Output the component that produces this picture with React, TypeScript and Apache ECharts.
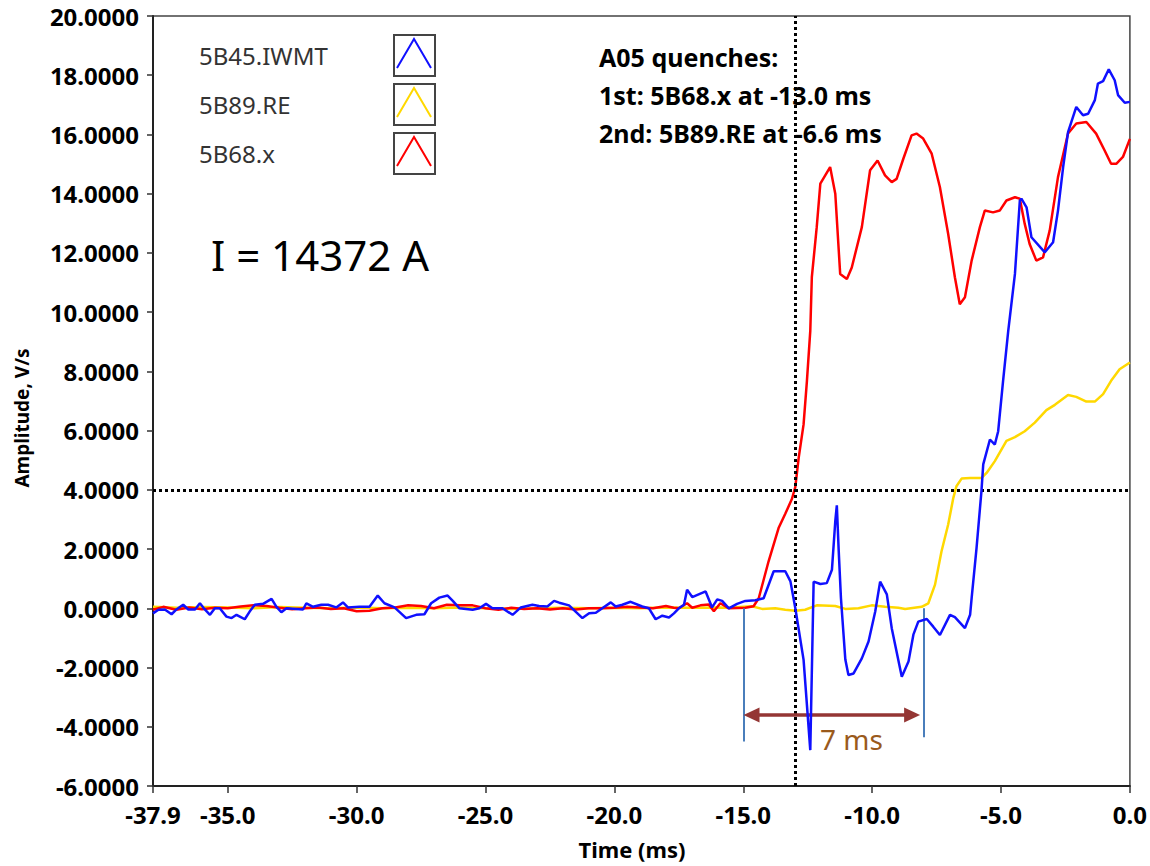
import React, { useEffect, useRef } from "react";
import * as echarts from "echarts";

// ---------- data (time in ms, amplitude in V/s) ----------
const SERIES_NAMES = ["5B45.IWMT", "5B89.RE", "5B68.x"];
const SERIES_COLORS = ["#1010ff", "#ffd800", "#ff0000"];

const BLUE_DATA: [number, number][] = [
  [-37.9, -0.17], [-37.69, -0.05], [-37.44, -0.04], [-37.18, -0.2], [-36.98, -0.03], [-36.73, 0.12],
  [-36.53, -0.04], [-36.27, -0.04], [-36.08, 0.17], [-35.89, -0.04], [-35.69, -0.22], [-35.5, 0.0],
  [-35.31, 0.0], [-35.05, -0.28], [-34.85, -0.33], [-34.66, -0.22], [-34.53, -0.28], [-34.34, -0.37],
  [-34.15, -0.11], [-33.95, 0.12], [-33.63, 0.15], [-33.3, 0.32], [-33.11, 0.05], [-32.92, -0.13],
  [-32.72, 0.0], [-32.08, -0.04], [-31.95, 0.17], [-31.69, 0.05], [-31.37, 0.12], [-31.11, 0.12],
  [-30.79, 0.03], [-30.53, 0.2], [-30.34, 0.03], [-29.89, 0.05], [-29.5, 0.05], [-29.18, 0.43],
  [-28.92, 0.17], [-28.53, 0.03], [-28.08, -0.33], [-27.69, -0.22], [-27.37, -0.2], [-27.11, 0.17],
  [-26.79, 0.36], [-26.47, 0.43], [-26.27, 0.25], [-26.01, 0.0], [-25.5, -0.05], [-25.24, 0.0],
  [-24.98, 0.15], [-24.73, 0.0], [-24.34, 0.0], [-23.95, -0.22], [-23.63, 0.03], [-23.18, 0.12],
  [-22.92, 0.08], [-22.6, 0.06], [-22.34, 0.25], [-22.14, 0.19], [-21.76, 0.1], [-21.24, -0.33],
  [-20.98, -0.17], [-20.72, -0.15], [-20.47, 0.0], [-20.14, 0.2], [-19.95, 0.06], [-19.69, 0.12],
  [-19.37, 0.22], [-18.92, 0.06], [-18.66, 0.0], [-18.4, -0.37], [-18.14, -0.25], [-17.88, -0.31],
  [-17.69, -0.17], [-17.5, 0.0], [-17.3, 0.12], [-17.18, 0.63], [-16.98, 0.38], [-16.46, 0.57],
  [-16.21, 0.03], [-16.01, 0.3], [-15.82, 0.25], [-15.56, 0.0], [-15.24, 0.15], [-14.92, 0.25],
  [-14.53, 0.27], [-14.21, 0.34], [-13.82, 1.25], [-13.37, 1.25], [-13.17, 0.91], [-12.98, 0.0],
  [-12.66, -1.74], [-12.4, -4.79], [-12.27, 0.9], [-12.01, 0.82], [-11.76, 0.85], [-11.56, 1.3],
  [-11.43, 2.94], [-11.37, 3.48], [-11.3, 2.0], [-11.21, 0.34], [-11.04, -1.73], [-10.92, -2.25],
  [-10.72, -2.2], [-10.4, -1.69], [-10.14, -1.12], [-9.88, -0.11], [-9.69, 0.9], [-9.43, 0.47],
  [-9.24, -0.67], [-8.85, -2.31], [-8.59, -1.8], [-8.4, -0.89], [-8.21, -0.45], [-7.88, -0.36],
  [-7.63, -0.62], [-7.37, -0.9], [-6.98, -0.22], [-6.79, -0.3], [-6.4, -0.67], [-6.2, -0.22],
  [-6.14, 0.34], [-5.95, 2.03], [-5.76, 3.95], [-5.69, 4.86], [-5.43, 5.7], [-5.24, 5.53],
  [-5.11, 5.98], [-4.92, 7.68], [-4.72, 9.37], [-4.46, 11.29], [-4.27, 13.77], [-4.21, 13.83],
  [-4.01, 13.54], [-3.82, 12.53], [-3.3, 12.02], [-2.98, 12.36], [-2.79, 13.43], [-2.59, 14.9],
  [-2.4, 16.08], [-2.08, 16.93], [-1.82, 16.65], [-1.62, 16.7], [-1.36, 17.16], [-1.24, 17.72],
  [-1.04, 17.8], [-0.82, 18.2], [-0.59, 17.83], [-0.46, 17.33], [-0.2, 17.07], [0, 17.1],
];

const YELLOW_DATA: [number, number][] = [
  [-37.9, 0.05], [-37.0, 0.02], [-36.0, 0.04], [-35.0, 0.03], [-34.0, 0.0], [-33.0, 0.04],
  [-32.0, 0.02], [-31.0, 0.0], [-30.0, 0.03], [-29.0, 0.0], [-28.0, 0.02], [-27.0, 0.0],
  [-26.0, 0.03], [-25.0, 0.0], [-24.0, -0.02], [-23.0, 0.0], [-22.0, 0.02], [-21.0, 0.0],
  [-20.0, 0.02], [-19.0, 0.0], [-18.0, 0.03], [-17.0, 0.02], [-16.0, 0.03], [-15.56, 0.02],
  [-14.66, 0.07], [-14.27, -0.02], [-13.76, 0.0], [-13.37, -0.05], [-12.98, -0.08], [-12.6, -0.05],
  [-12.15, 0.1], [-11.43, 0.08], [-11.04, -0.02], [-10.53, 0.0], [-10.02, 0.1], [-9.5, 0.05],
  [-8.98, 0.02], [-8.72, -0.02], [-8.08, 0.05], [-7.82, 0.17], [-7.56, 0.8], [-7.31, 1.92],
  [-7.05, 2.83], [-6.85, 3.73], [-6.73, 4.12], [-6.53, 4.38], [-6.2, 4.4], [-5.76, 4.4],
  [-5.56, 4.57], [-5.24, 4.97], [-4.79, 5.65], [-4.46, 5.78], [-4.08, 5.98], [-3.69, 6.27],
  [-3.24, 6.69], [-2.91, 6.87], [-2.4, 7.2], [-2.08, 7.14], [-1.69, 6.98], [-1.36, 6.98],
  [-1.04, 7.23], [-0.73, 7.68], [-0.4, 8.07], [0, 8.3],
];

const RED_DATA: [number, number][] = [
  [-37.9, -0.05], [-37.5, 0.05], [-37.0, -0.05], [-36.5, 0.03], [-36.0, -0.03], [-35.5, 0.02],
  [-35.0, 0.0], [-34.5, 0.06], [-34.0, 0.1], [-33.5, 0.08], [-33.0, 0.02], [-32.5, -0.03],
  [-32.0, 0.0], [-31.5, 0.03], [-31.0, -0.02], [-30.5, 0.0], [-30.0, -0.1], [-29.5, -0.08],
  [-29.0, 0.0], [-28.5, 0.03], [-28.0, 0.1], [-27.5, 0.08], [-27.0, 0.0], [-26.5, 0.12],
  [-26.0, 0.1], [-25.5, 0.1], [-25.0, 0.0], [-24.5, -0.05], [-24.0, 0.02], [-23.5, -0.02],
  [-23.0, 0.0], [-22.5, -0.04], [-22.0, 0.0], [-21.5, -0.04], [-21.0, 0.0], [-20.5, 0.0],
  [-20.0, 0.02], [-19.5, 0.05], [-19.0, 0.03], [-18.5, 0.0], [-18.0, 0.08], [-17.7, 0.02],
  [-17.5, 0.0], [-17.18, 0.17], [-16.98, 0.02], [-16.66, 0.1], [-16.34, 0.13], [-16.14, -0.1],
  [-15.89, 0.17], [-15.56, 0.0], [-14.92, 0.02], [-14.6, 0.07], [-14.4, 0.34], [-14.02, 1.58],
  [-13.63, 2.71], [-13.37, 3.19], [-13.11, 3.7], [-12.98, 4.1], [-12.85, 5.08], [-12.66, 6.21],
  [-12.53, 7.68], [-12.4, 9.37], [-12.34, 11.18], [-12.15, 12.87], [-12.01, 14.34], [-11.82, 14.62],
  [-11.63, 14.9], [-11.43, 14.0], [-11.24, 11.29], [-10.98, 11.12], [-10.79, 11.51], [-10.4, 12.87],
  [-10.08, 14.79], [-9.79, 15.12], [-9.5, 14.62], [-9.24, 14.39], [-9.05, 14.5], [-8.79, 15.18],
  [-8.47, 15.97], [-8.28, 16.03], [-8.02, 15.86], [-7.69, 15.35], [-7.37, 14.22], [-7.05, 12.64],
  [-6.79, 11.18], [-6.6, 10.27], [-6.4, 10.5], [-6.14, 11.74], [-5.82, 12.87], [-5.63, 13.43],
  [-5.31, 13.37], [-5.05, 13.43], [-4.79, 13.77], [-4.46, 13.88], [-4.27, 13.83], [-4.08, 12.98],
  [-3.89, 12.3], [-3.63, 11.74], [-3.37, 11.85], [-3.11, 12.76], [-2.79, 14.56], [-2.4, 16.03],
  [-2.08, 16.37], [-1.69, 16.42], [-1.31, 16.03], [-0.98, 15.46], [-0.73, 15.01], [-0.53, 15.01],
  [-0.27, 15.24], [0, 15.85],
];

const X_TICKS = [-37.9, -35, -30, -25, -20, -15, -10, -5, 0];
const X_MIN = -37.9;
const X_MAX = 0;
const Y_MIN = -6;
const Y_MAX = 20;
const Y_STEP = 2;

// annotation values
const CROSS_T = -13.0; // first quench time
const CROSS_V = 4.0; // threshold
const SPAN_START = -15;
const SPAN_END = -8;
const SPAN_LEFT_BOTTOM = -4.5;
const SPAN_RIGHT_BOTTOM = -4.35;
const ARROW_V = -3.6;
const ARROW_FROM = -14.68;
const ARROW_TO = -8.45;

const INFO_LINES = ["A05 quenches:", "1st: 5B68.x at -13.0 ms", "2nd: 5B89.RE at -6.6 ms"];
const CURRENT_TEXT = "I = 14372 A";
const SPAN_TEXT = "7 ms";

const FONT = '"Noto Sans", "DejaVu Sans", sans-serif';

export default function App() {
  const ref = useRef<HTMLDivElement>(null);

  useEffect(() => {
    if (!ref.current) return;
    const chart = echarts.init(ref.current, undefined, { renderer: "svg" });

    const datasets = [BLUE_DATA, YELLOW_DATA, RED_DATA];
    const drawOrder = [1, 2, 0];

    const series: any[] = drawOrder.map((i) => ({
      name: SERIES_NAMES[i],
      type: "line",
      data: datasets[i],
      showSymbol: false,
      symbol: "none",
      lineStyle: { color: SERIES_COLORS[i], width: 2.5 },
      itemStyle: { color: SERIES_COLORS[i] },
      silent: true,
      z: 3 + drawOrder.indexOf(i),
    }));

    series.push({
      type: "line",
      data: [],
      silent: true,
      z: 10,
      markLine: {
        silent: true,
        animation: false,
        symbol: ["none", "none"],
        label: { show: false },
        emphasis: { disabled: true },
        lineStyle: { color: "#000", type: "dotted", width: 3 },
        data: [{ xAxis: CROSS_T }, { yAxis: CROSS_V }],
      },
    });
    series.push({
      type: "line",
      data: [],
      silent: true,
      z: 2,
      markLine: {
        silent: true,
        animation: false,
        symbol: ["none", "none"],
        label: { show: false },
        emphasis: { disabled: true },
        lineStyle: { color: "#4a7ebb", type: "solid", width: 2 },
        data: [
          [{ coord: [SPAN_START, 0] }, { coord: [SPAN_START, SPAN_LEFT_BOTTOM] }],
          [{ coord: [SPAN_END, 0] }, { coord: [SPAN_END, SPAN_RIGHT_BOTTOM] }],
        ],
      },
    });
    series.push({
      type: "line",
      data: [],
      silent: true,
      z: 6,
      markLine: {
        silent: true,
        animation: false,
        symbol: ["triangle", "triangle"],
        symbolSize: [15, 16],
        label: { show: false },
        emphasis: { disabled: true },
        lineStyle: { color: "#943634", type: "solid", width: 3.5 },
        itemStyle: { color: "#943634" },
        data: [[{ coord: [ARROW_FROM, ARROW_V] }, { coord: [ARROW_TO, ARROW_V] }]],
      },
    });

    const legendGraphics: any[] = [];
    SERIES_NAMES.forEach((name, i) => {
      const cy = 55 + i * 49;
      legendGraphics.push({
        type: "text",
        x: 199,
        y: cy,
        style: { text: name, font: `24px ${FONT}`, fill: "#333", verticalAlign: "middle", align: "left" },
      });
      legendGraphics.push({
        type: "rect",
        shape: { x: 394, y: cy - 20, width: 41, height: 41 },
        style: { fill: "#fff", stroke: "#444", lineWidth: 2 },
      });
      legendGraphics.push({
        type: "polyline",
        shape: { points: [[397, cy + 13], [414, cy - 16], [431, cy + 13]] },
        style: { stroke: SERIES_COLORS[i], lineWidth: 2, fill: "none" },
      });
    });

    const option: any = {
      animation: false,
      backgroundColor: "#fff",
      grid: {
        left: 153,
        right: 18,
        top: 16,
        bottom: 80,
        show: true,
        borderColor: "#444",
        borderWidth: 1.5,
        backgroundColor: "transparent",
      },
      xAxis: {
        type: "value",
        min: X_MIN,
        max: X_MAX,
        splitLine: { show: false },
        axisLine: { show: true, onZero: false, lineStyle: { color: "#222", width: 2 } },
        axisTick: {
          show: true,
          length: 7,
          customValues: X_TICKS,
          lineStyle: { color: "#333", width: 1.5 },
        },
        axisLabel: {
          customValues: X_TICKS,
          formatter: (v: number) => v.toFixed(1),
          fontFamily: FONT,
          fontWeight: "bold",
          fontSize: 24,
          color: "#000",
          margin: 16,
        },
      },
      yAxis: {
        type: "value",
        min: Y_MIN,
        max: Y_MAX,
        interval: Y_STEP,
        splitLine: { show: false },
        axisLine: { show: true, onZero: false, lineStyle: { color: "#222", width: 2 } },
        axisTick: { show: true, length: 6, lineStyle: { color: "#333", width: 1.5 } },
        axisLabel: {
          formatter: (v: number) => v.toFixed(4),
          fontFamily: FONT,
          fontWeight: "bold",
          fontSize: 24,
          color: "#000",
          margin: 14,
        },
      },
      series,
      graphic: [
        ...legendGraphics,
        {
          type: "text",
          x: 211,
          y: 254,
          style: { text: CURRENT_TEXT, font: `42px ${FONT}`, fill: "#000", verticalAlign: "middle", align: "left" },
        },
        ...INFO_LINES.map((t, i) => ({
          type: "text",
          x: 599,
          y: 57 + i * 38,
          style: { text: t, font: `bold 25px ${FONT}`, fill: "#000", verticalAlign: "middle", align: "left" },
        })),
        {
          type: "text",
          x: 820,
          y: 739,
          style: { text: SPAN_TEXT, font: `28px ${FONT}`, fill: "#9a5a1c", verticalAlign: "middle", align: "left" },
        },
        {
          type: "text",
          x: 632,
          y: 849,
          style: { text: "Time (ms)", font: `bold 22px ${FONT}`, fill: "#000", verticalAlign: "middle", align: "center" },
        },
        {
          type: "text",
          x: 22,
          y: 418,
          rotation: Math.PI / 2,
          style: { text: "Amplitude, V/s", font: `bold 19px ${FONT}`, fill: "#000", verticalAlign: "middle", align: "center" },
        },
      ],
    };

    chart.setOption(option);
    return () => chart.dispose();
  }, []);

  return (
    <div
      ref={ref}
      style={{ position: "absolute", left: 0, top: 0, width: 1150, height: 866, background: "#fff" }}
    />
  );
}
